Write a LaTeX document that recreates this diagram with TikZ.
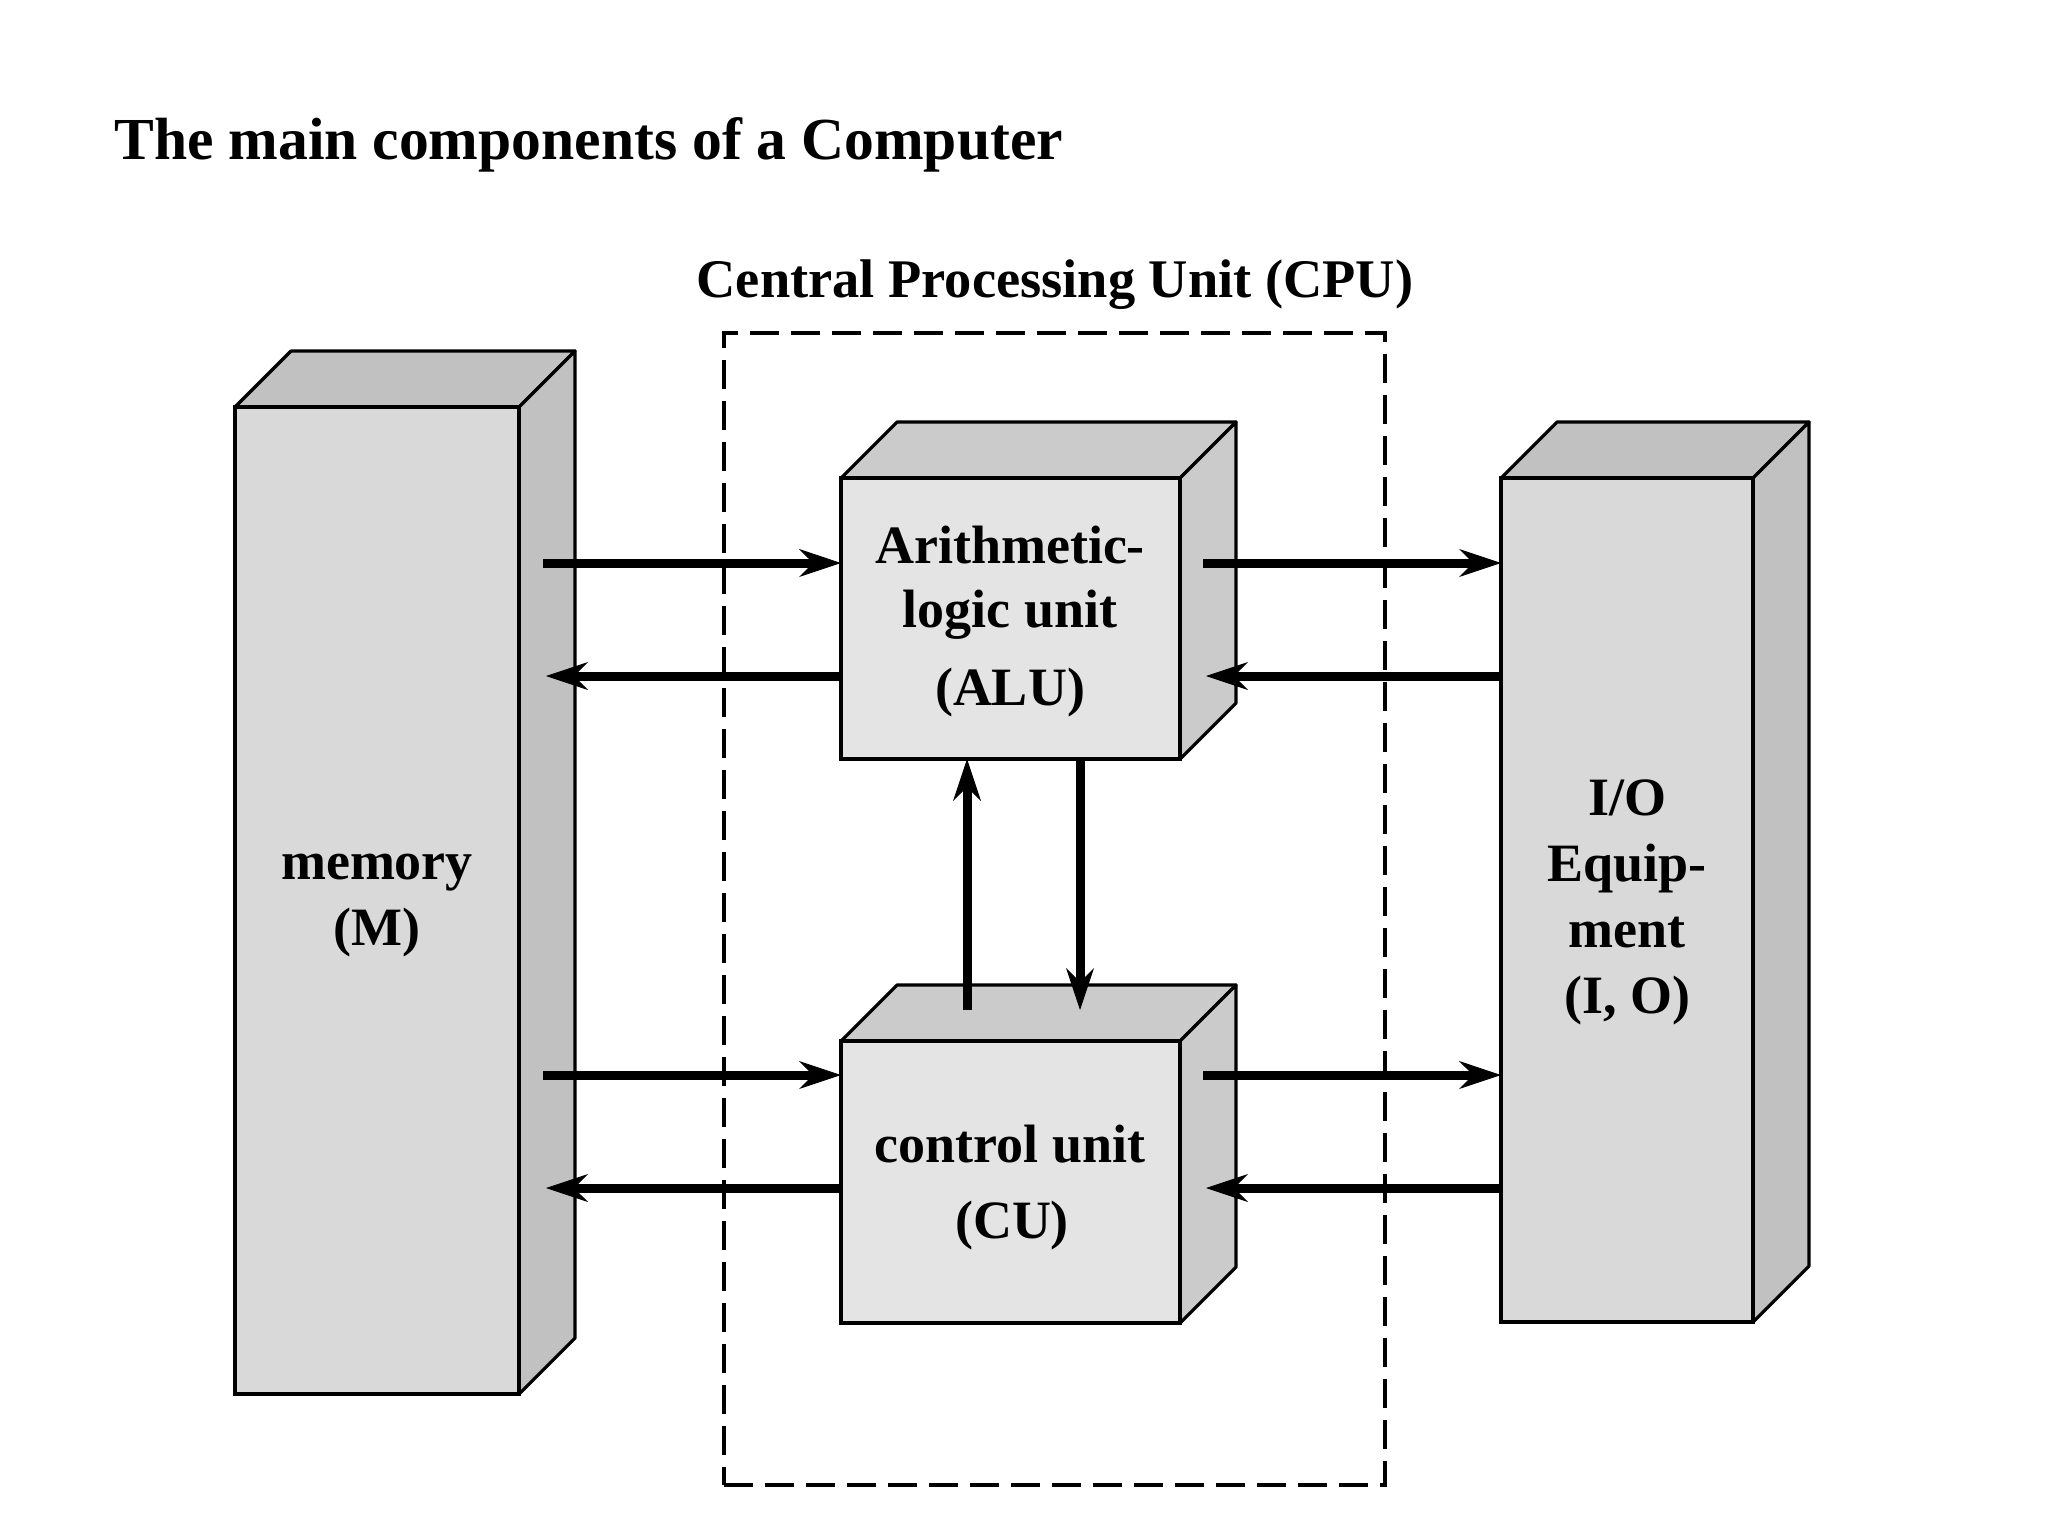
\documentclass[tikz,border=0pt]{standalone}
\usepackage{fontspec}
\setmainfont{Liberation Serif}
\usetikzlibrary{arrows.meta,backgrounds,calc}
\definecolor{memF}{RGB}{217,217,217}
\definecolor{memS}{RGB}{193,193,193}
\definecolor{cpuF}{RGB}{228,228,228}
\definecolor{cpuS}{RGB}{203,203,203}
\tikzset{
  frontbox/.style={draw=black, line width=2.3pt, inner sep=0pt, outer sep=0pt},
  face/.style={draw=black, line width=1.6pt, line join=round},
  arr/.style={line width=4.5pt, -{Stealth[length=21pt,width=14pt,inset=7pt,line width=0.4pt]}},
  lbl/.style={font=\bfseries\fontsize{27pt}{32pt}\selectfont, inner sep=0pt, anchor=base},
  cpubox/.style={draw=black, line width=2pt, dash pattern=on 14.5pt off 6pt, inner sep=0pt},
}
\newcommand\boxfaces[3]{%
  \begin{scope}[on background layer]
    \filldraw[face, fill=#2] (#1.north west) -- ++(28pt,28pt) -- ([shift={(28pt,28pt)}]#1.north east) -- (#1.north east) -- cycle;
    \filldraw[face, fill=#3] (#1.north east) -- ++(28pt,28pt) -- ([shift={(28pt,28pt)}]#1.south east) -- (#1.south east) -- cycle;
  \end{scope}}
\begin{document}
\begin{tikzpicture}[x=0.5pt,y=-0.5pt]
  \begin{scope}[on background layer]
    \fill[white] (0,0) rectangle (2048,1536);
  \end{scope}
  \useasboundingbox (0,0) rectangle (2048,1536);

  % titles
  \node[font=\bfseries\fontsize{29.8pt}{34pt}\selectfont, inner sep=0pt, anchor=base west] (title) at (114,159) {The main components of a Computer};
  \node[font=\bfseries\fontsize{27.2pt}{32pt}\selectfont, inner sep=0pt, anchor=base] (cpulbl) at (1055,297) {Central Processing Unit (CPU)};

  % CPU dashed frame
  \node[cpubox, minimum width=330.5pt, minimum height=576pt] (cpu) at (1054.5,909) {};

  % boxes (front faces)
  \node[frontbox, fill=memF, minimum width=142pt, minimum height=493.5pt] (mem) at (377,900.5) {};
  \node[frontbox, fill=cpuF, minimum width=169.5pt, minimum height=140.5pt] (alu) at (1010.5,618.5) {};
  \node[frontbox, fill=cpuF, minimum width=169.5pt, minimum height=141pt] (cu) at (1010.5,1182) {};
  \node[frontbox, fill=memF, minimum width=126pt, minimum height=422pt] (io) at (1627,900) {};

  \boxfaces{mem}{memS}{memS}
  \boxfaces{alu}{cpuS}{cpuS}
  \boxfaces{cu}{cpuS}{cpuS}
  \boxfaces{io}{memS}{memS}

  % labels
  \node[lbl] (m1) at (377,879) {memory};
  \node[lbl] (m2) at (377,945) {(M)};
  \node[lbl] (i1) at (1627,815) {I/O};
  \node[lbl] (i2) at (1627,881) {Equip-};
  \node[lbl] (i3) at (1627,947) {ment};
  \node[lbl] (i4) at (1627,1013) {(I, O)};
  \node[lbl] (a1) at (1010,563) {Arithmetic-};
  \node[lbl] (a2) at (1010,627) {logic unit};
  \node[lbl] (a3) at (1010,705) {(ALU)};
  \node[lbl] (c1) at (1010,1162) {control unit};
  \node[lbl] (c2) at (1012,1238) {(CU)};

  % reference rows / columns
  \coordinate (ya) at (0,563);
  \coordinate (yb) at (0,676);
  \coordinate (yc) at (0,1075);
  \coordinate (yd) at (0,1188);
  \coordinate (xu) at (967,0);
  \coordinate (xd) at (1080,0);

  % connectors
  \draw[arr] ([xshift=12pt]mem.east |- ya) -- (alu.west |- ya);
  \draw[arr] (alu.west |- yb) -- ([xshift=13.5pt]mem.east |- yb);
  \draw[arr] ([xshift=11.5pt]alu.east |- ya) -- (io.west |- ya);
  \draw[arr] (io.west |- yb) -- ([xshift=13pt]alu.east |- yb);
  \draw[arr] ([xshift=12pt]mem.east |- yc) -- (cu.west |- yc);
  \draw[arr] (cu.west |- yd) -- ([xshift=13.5pt]mem.east |- yd);
  \draw[arr] ([xshift=11.5pt]cu.east |- yc) -- (io.west |- yc);
  \draw[arr] (io.west |- yd) -- ([xshift=13pt]cu.east |- yd);
  \draw[arr] ([yshift=15.5pt]cu.north -| xu) -- (alu.south -| xu);
  \draw[arr] (alu.south -| xd) -- ([yshift=15.5pt]cu.north -| xd);
\end{tikzpicture}
\end{document}
